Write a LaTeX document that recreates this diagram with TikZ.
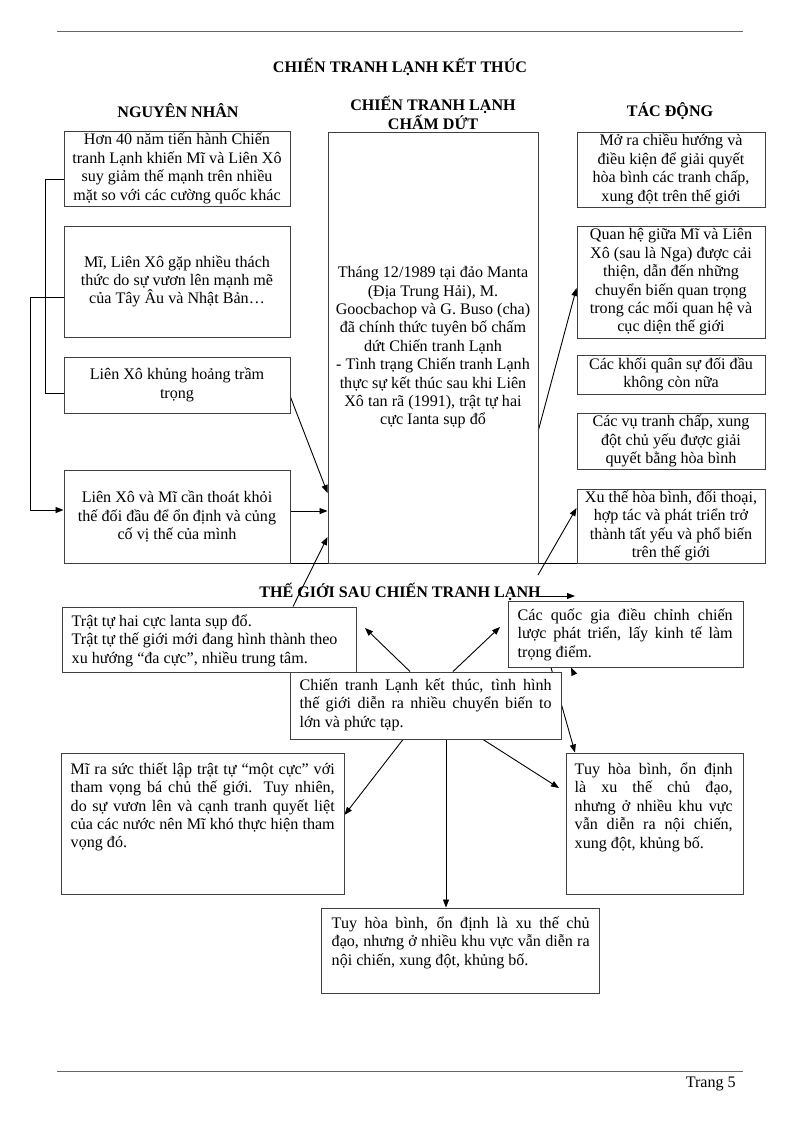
\documentclass[tikz,border=0pt]{standalone}
\usepackage{fontspec}
\setmainfont{Liberation Serif}
\usetikzlibrary{arrows.meta,calc}
\pgfdeclarelayer{bg}
\pgfsetlayers{bg,main}
\begin{document}
\begin{tikzpicture}[x=1pt,y=-1pt,
 font=\fontsize{16.1}{18.4}\selectfont,
 box/.style={draw=black!75,line width=0.95pt,fill=white,inner sep=0pt},
 cbox/.style={box,align=center},
 jtext/.style={anchor=north west,inner sep=0pt,align=justify},
 ltext/.style={anchor=north west,inner sep=0pt,align=left},
 arr/.style={-{Triangle[length=8pt,width=6pt]},line width=0.9pt,black},
 ln/.style={line width=0.9pt,black},
 rule/.style={line width=1pt,black!60},
 head/.style={font=\fontsize{16.1}{18.4}\selectfont\bfseries,align=center,inner sep=0pt},
]
\useasboundingbox (0,0) rectangle (800,1130);

% page rules
\coordinate (r1a) at (57,31); \coordinate (r1b) at (743,31);
\coordinate (r2a) at (57,1071); \coordinate (r2b) at (743,1071);
\draw[rule] (r1a) -- (r1b);
\draw[rule] (r2a) -- (r2b);
\node[anchor=east,inner sep=0pt] (pg) at (736,1084) {Trang 5};

% headings
\node[head] (T) at (400,67) {CHIẾN TRANH LẠNH KẾT THÚC};
\node[head] (H1) at (178,111) {NGUYÊN NHÂN};
\node[head] (H2) at (433,113) {CHIẾN TRANH LẠNH\\CHẤM DỨT};
\node[head] (H3) at (670,111) {TÁC ĐỘNG};

% left column
\node[cbox,minimum width=226pt,minimum height=75pt] (L1) at (177,168.5)
 {Hơn 40 năm tiến hành Chiến\\tranh Lạnh khiến Mĩ và Liên Xô\\suy giảm thế mạnh trên nhiều\\mặt so với các cường quốc khác};
\node[cbox,minimum width=226pt,minimum height=111pt] (L2) at (177,281.5)
 {Mĩ, Liên Xô gặp nhiều thách\\thức do sự vươn lên mạnh mẽ\\của Tây Âu và Nhật Bản…};
\node[cbox,minimum width=226pt,minimum height=56pt] (L3) at (177,385)
 {Liên Xô khủng hoảng trầm\\trọng};
\node[cbox,minimum width=226pt,minimum height=93pt] (L4) at (177,516.5)
 {Liên Xô và Mĩ cần thoát khỏi\\thế đối đầu để ổn định và củng\\cố vị thế của mình};

% centre column
\node[cbox,minimum width=210pt,minimum height=431pt] (M) at (433,347.5)
 {Tháng 12/1989 tại đảo Manta\\(Địa Trung Hải), M.\\Goocbachop và G. Buso (cha)\\đã chính thức tuyên bố chấm\\dứt Chiến tranh Lạnh\\- Tình trạng Chiến tranh Lạnh\\thực sự kết thúc sau khi Liên\\Xô tan rã (1991), trật tự hai\\cực Ianta sụp đổ};

% right column
\node[cbox,minimum width=188pt,minimum height=75pt] (R1) at (671,169.5)
 {Mở ra chiều hướng và\\điều kiện để giải quyết\\hòa bình các tranh chấp,\\xung đột trên thế giới};
\node[cbox,minimum width=188pt,minimum height=112pt] (R2) at (671,282)
 {Quan hệ giữa Mĩ và Liên\\Xô (sau là Nga) được cải\\thiện, dẫn đến những\\chuyển biến quan trọng\\trong các mối quan hệ và\\cục diện thế giới};
\node[cbox,minimum width=188pt,minimum height=39pt] (R3) at (671,374.5)
 {Các khối quân sự đối đầu\\không còn nữa};
\node[cbox,minimum width=188pt,minimum height=56pt] (R4) at (671,441)
 {Các vụ tranh chấp, xung\\đột chủ yếu được giải\\quyết bằng hòa bình};
\node[cbox,minimum width=188pt,minimum height=74pt] (R5) at (671,526)
 {Xu thế hòa bình, đối thoại,\\hợp tác và phát triển trở\\thành tất yếu và phổ biến\\trên thế giới};

% lower section
\node[head] (T2) at (400,592) {THẾ GIỚI SAU CHIẾN TRANH LẠNH};

\node[box,minimum width=294pt,minimum height=65pt] (B1) at (209,639.5) {};
\node[ltext] (B1t) at ([xshift=10pt,yshift=-8pt]B1.north west)
 {Trật tự hai cực lanta sụp đổ.\\Trật tự thế giới mới đang hình thành theo\\xu hướng “đa cực”, nhiều trung tâm.};

\node[box,minimum width=235pt,minimum height=66pt] (B2) at (625.5,634) {};
\node[jtext,text width=215pt] (B2t) at ([xshift=10pt,yshift=-8pt]B2.north west)
 {Các quốc gia điều chỉnh chiến\linebreak lược phát triển, lấy kinh tế làm\linebreak trọng điểm.};

\node[box,minimum width=271pt,minimum height=67pt] (C) at (425.5,705.5) {};
\node[jtext,text width=252pt] (Ct) at ([xshift=10pt,yshift=-7pt]C.north west)
 {Chiến tranh Lạnh kết thúc, tình hình\linebreak thế giới diễn ra nhiều chuyển biến to\linebreak lớn và phức tạp.};

\node[box,minimum width=283pt,minimum height=141pt] (B3) at (202.5,823.5) {};
\node[jtext,text width=264pt] (B3t) at ([xshift=10pt,yshift=-10pt]B3.north west)
 {Mĩ ra sức thiết lập trật tự “một cực” với\linebreak tham vọng bá chủ thế giới. Tuy nhiên,\linebreak do sự vươn lên và cạnh tranh quyết liệt\linebreak của các nước nên Mĩ khó thực hiện tham\linebreak vọng đó.};

\node[box,minimum width=177pt,minimum height=141pt] (B4) at (654.5,823.5) {};
\node[jtext,text width=158pt] (B4t) at ([xshift=9pt,yshift=-10pt]B4.north west)
 {Tuy hòa bình, ổn định\linebreak là xu thế chủ đạo,\linebreak nhưng ở nhiều khu vực\linebreak vẫn diễn ra nội chiến,\linebreak xung đột, khủng bố.};

\node[box,minimum width=278pt,minimum height=85pt] (B5) at (460,950.5) {};
\node[jtext,text width=258pt] (B5t) at ([xshift=11pt,yshift=-9pt]B5.north west)
 {Tuy hòa bình, ổn định là xu thế chủ\linebreak đạo, nhưng ở nhiều khu vực vẫn diễn ra\linebreak nội chiến, xung đột, khủng bố.};

% helper coordinates
\coordinate (k1) at (45,179);
\coordinate (k2) at (45,393);
\coordinate (k3) at (30,297);
\coordinate (k4) at (30,510);
\coordinate (m1) at (0,493);
\coordinate (m2) at (0,511);
\coordinate (m3) at (0,537);
\coordinate (bx) at (293,0);
\coordinate (n1) at (0,430);
\coordinate (n2) at (0,288);
\coordinate (s1) at (538,575);
\coordinate (s2) at (0,508);
\coordinate (t1) at (537,596);
\coordinate (t2) at (575,596);
\coordinate (c1) at (410,0);
\coordinate (e1) at (365,628);
\coordinate (c2) at (453,0);
\coordinate (e2) at (500,627);
\coordinate (c3) at (403,0);
\coordinate (e3) at (0,815);
\coordinate (c4) at (483,0);
\coordinate (e4) at (559,788);
\coordinate (c5) at (446,0);
\coordinate (c6) at (551,0);
\coordinate (c7) at (575,0);
\coordinate (u1) at (574,674);
\coordinate (u2) at (571,0);

\begin{pgfonlayer}{bg}
 % left bracket connectors
 \draw[ln] (L1.west |- k1) -- (k1) -- (k2) -- (L3.west |- k2);
 \draw[ln] (L2.west |- k3) -- (k3) -- (k4);
 \draw[arr] (k4) -- (L4.west |- k4);
 % into centre box
 \draw[arr] ([yshift=-12pt]L3.east) -- (M.west |- m1);
 \draw[arr] (L4.east |- m2) -- (M.west |- m2);
 \draw[arr] (B1.north -| bx) -- (M.west |- m3);
 % baseline rule under the three columns
 \draw[ln] (L4.south west) -- (R5.south east);
 % out of centre box
 \draw[arr] (M.east |- n1) -- (R2.west |- n2);
 \draw[arr] (s1) -- (R5.west |- s2);
 \draw[arr] (t1) -- (t2);
 % lower section
 \draw[arr] (C.north -| c1) -- (e1);
 \draw[arr] (C.north -| c2) -- (e2);
 \draw[arr] (C.south -| c3) -- (B3.east |- e3);
 \draw[arr] (C.south -| c4) -- (e4);
 \draw[arr] (C.south -| c5) -- (B5.north -| c5);
 \draw[arr] (B2.south -| c6) -- (B4.north -| c7);
 \draw[arr] (u1) -- (B2.south -| u2);
\end{pgfonlayer}
\end{tikzpicture}
\end{document}
